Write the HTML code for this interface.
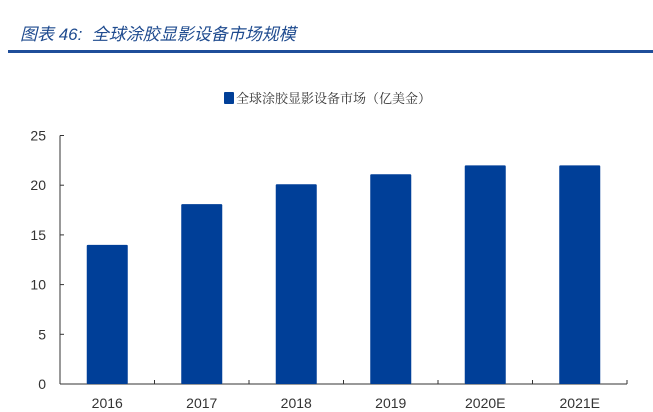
<!DOCTYPE html>
<html><head><meta charset="utf-8"><style>
body{margin:0;width:653px;height:412px;background:#fff;overflow:hidden;font-family:"Liberation Sans","Noto Sans CJK SC",sans-serif}
</style></head><body>
<div style="position:absolute;left:20px;top:20px;font-size:17px;font-style:italic;color:#1f4b8f;font-family:'Liberation Sans','Noto Sans CJK SC',sans-serif">图表 46:&nbsp; 全球涂胶显影设备市场规模</div>
<div style="position:absolute;left:8px;top:50px;width:645px;height:3px;background:#1f4e9a"></div>
<svg id="c" width="653" height="412" style="position:absolute;left:0;top:0"></svg>
<script>
const categories=["2016","2017","2018","2019","2020E","2021E"];
const values=[14,18.1,20.1,21.1,22,22];
const yTicks=[0,5,10,15,20,25];
const legendLabel="全球涂胶显影设备市场（亿美金）";
const svg=document.getElementById('c');const NS='http://www.w3.org/2000/svg';
const x0=60,x1=627,y0=384,yTop=135.5,yMax=25;
const band=(x1-x0)/categories.length;
const y=v=>y0-(v/yMax)*(y0-yTop);
const bx=i=>x0+band*i;
function mk(t,a,txt){const e=document.createElementNS(NS,t);for(const k in a)e.setAttribute(k,a[k]);if(txt!=null)e.textContent=txt;svg.appendChild(e);return e;}
let e=mk('line',{x1:x0,y1:yTop,x2:x0,y2:y0,stroke:'#333','stroke-width':1});


e=mk('line',{x1:x0,y1:y0,x2:x1,y2:y0,stroke:'#333','stroke-width':1});


yTicks.forEach(t=>{
 e=mk('line',{x1:x0,y1:y(t),x2:x0+4,y2:y(t),stroke:'#333'});
 
 
 e=mk('text',{x:46,y:y(t)+5,'text-anchor':'end','font-size':14,fill:'#333'},String(t));
 
 
});
categories.forEach((c,i)=>{
 e=mk('line',{x1:bx(i+1),y1:y0,x2:bx(i+1),y2:y0-4,stroke:'#333'});
 
 
 const bw=41,cx=bx(i)+band/2;
 e=mk('rect',{x:cx-bw/2,y:y(values[i]),width:bw,height:y0-y(values[i]),fill:'#003f98',rx:1});
 
 
 e=mk('text',{x:cx,y:408,'text-anchor':'middle','font-size':14,fill:'#333'},c);
 
 
});
e=mk('rect',{x:224,y:92,width:10,height:12,fill:'#003f98',rx:1});


e=mk('text',{x:236,y:103,'font-size':13,fill:'#333','font-family':'"Noto Serif CJK SC","Noto Sans CJK SC",serif'},legendLabel);


</script>
</body></html>
